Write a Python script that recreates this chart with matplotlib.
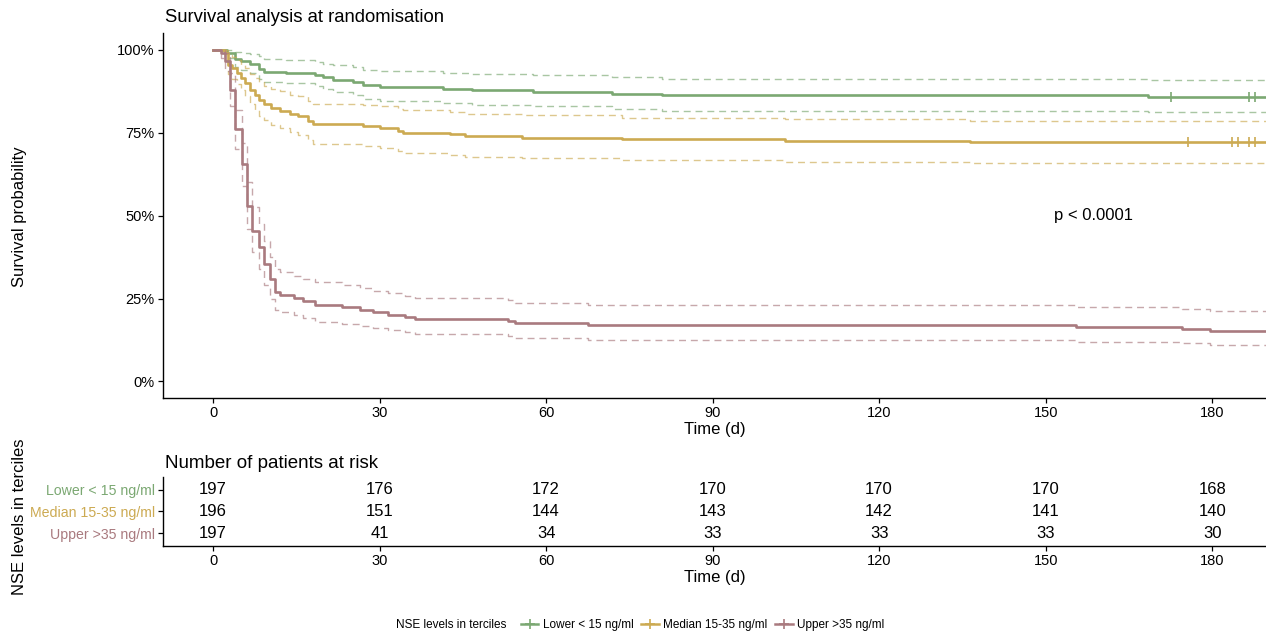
import matplotlib
matplotlib.use("Agg")
import matplotlib.pyplot as plt
from matplotlib.lines import Line2D
import numpy as np

plt.rcParams['font.family'] = ['Liberation Sans', 'DejaVu Sans']

# ---------------- data ----------------
groups = ["Lower < 15 ng/ml", "Median 15-35 ng/ml", "Upper >35 ng/ml"]
colors = ["#7BA872", "#CCAA52", "#A97A7F"]
end_time = 190

low_t = [0, 2.5, 4, 5, 6.7, 8.2, 9.1, 13.2, 18.4, 19.8, 21.6, 25.2, 27, 30, 41.4, 46.6, 57.6, 71.8, 80.8, 168.5]
low_s = [100, 99, 97.2, 96.5, 95.8, 94.3, 93.4, 93.1, 92.5, 91.7, 91.0, 90.2, 89.4, 88.8, 88.2, 87.8, 87.3, 86.8, 86.4, 85.8]
low_u = [100, 100, 99.5, 99.2, 98.8, 98.0, 97.2, 97.0, 96.3, 95.8, 95.4, 94.8, 94.0, 93.6, 93.1, 92.8, 92.4, 91.9, 91.3, 90.8]
low_l = [100, 97.5, 94.8, 93.8, 93.0, 91.3, 90.2, 89.9, 89.2, 88.3, 87.3, 86.3, 85.3, 84.6, 83.9, 83.5, 83.1, 82.3, 81.7, 81.2]
low_c = [172.6, 186.7, 187.7]

med_t = [0, 2.2, 2.7, 3.4, 4.3, 5.1, 5.8, 6.7, 7.6, 8.2, 9.1, 10.5, 12, 13.9, 15.3, 17.1, 18, 27, 30, 33.3, 34.2, 42.7, 45.4, 55.7, 73.7, 103, 136.4]
med_s = [100, 99, 95.5, 94.5, 93, 91.5, 90, 88, 86.5, 85, 83.7, 82.5, 81.7, 80.7, 80, 78.5, 77.5, 77, 76.5, 75.5, 75, 74.5, 74, 73.5, 73.1, 72.6, 72.1]
med_u = [100, 100, 98.5, 97.8, 96.8, 95.5, 94.5, 92.8, 91.5, 90.3, 89.2, 88.2, 87.5, 86.5, 86, 84.6, 83.8, 83.4, 83, 82.2, 81.8, 81.3, 80.8, 80.3, 79.6, 79.0, 78.5]
med_l = [100, 97.5, 92.6, 91.3, 89.6, 87.8, 86, 83.7, 82, 80.2, 78.7, 77.3, 76.4, 75.2, 74.3, 72.7, 71.6, 71.1, 70.5, 69.4, 68.9, 68.4, 67.8, 67.3, 66.8, 66.3, 65.8]
med_c = [175.7, 183.6, 184.6, 186.7, 187.7]

upp_t = [0, 1.5, 2.2, 3.1, 4.0, 5.2, 6.1, 7.0, 8.2, 9.1, 10.3, 11.2, 12.1, 14.5, 16.3, 18.4, 23.2, 26.5, 28.9, 31.6, 34.6, 36.4, 53.2, 54.4, 67.6, 155.5, 174.6, 179.6]
upp_s = [100, 99, 96.5, 88, 76, 65.5, 53, 45.5, 40.4, 35.5, 31, 27, 26, 25.1, 24.4, 23.1, 22.4, 21.6, 20.9, 20.1, 19.4, 18.9, 18.2, 17.5, 17.0, 16.4, 15.7, 15.2]
upp_u = [100, 100, 99, 93, 82, 72, 60, 52.5, 47.5, 42.5, 37.5, 34, 33, 31.8, 31, 30, 29, 28.2, 27.4, 26.6, 25.9, 25.3, 24.5, 23.7, 23.2, 22.4, 21.9, 21.2]
upp_l = [100, 97.5, 93.5, 83, 70, 59, 46, 39, 34, 29, 25, 21.6, 20.8, 20, 19, 17.9, 17.4, 16.7, 16, 15.4, 14.8, 14.2, 13.6, 13, 12.5, 11.9, 11.6, 11.1]
upp_c = []

risk_times = [0, 30, 60, 90, 120, 150, 180]
risk_low = [197, 176, 172, 170, 170, 170, 168]
risk_med = [196, 151, 144, 143, 142, 141, 140]
risk_upp = [197, 41, 34, 33, 33, 33, 30]

series = [
    (low_t, low_s, low_u, low_l, low_c),
    (med_t, med_s, med_u, med_l, med_c),
    (upp_t, upp_s, upp_u, upp_l, upp_c),
]
risks = [risk_low, risk_med, risk_upp]

# ---------------- figure ----------------
fig = plt.figure(figsize=(12.66, 6.34), dpi=100)
ax = fig.add_axes([0.1288, 0.3722, 0.8712, 0.5753])
axt = fig.add_axes([0.1288, 0.1388, 0.8712, 0.1093])

for (t, s, u, l, c), col in zip(series, colors):
    tt = list(t) + [end_time]
    for vals, ls, lw, al in [(u, (0, (5, 3.5)), 1.0, 0.65), (l, (0, (5, 3.5)), 1.0, 0.65), (s, '-', 1.9, 1.0)]:
        vv = list(vals) + [vals[-1]]
        ax.step(tt, vv, where='post', color=col, lw=lw, linestyle=ls, alpha=al)
    if c:
        idx = np.searchsorted(np.array(t), np.array(c), side='right') - 1
        ax.plot(c, np.array(s)[idx], linestyle='none', marker='|', color=col,
                markersize=7, markeredgewidth=1.2)

ax.set_xlim(-9, 189.7)
ax.set_ylim(-5, 105)
ax.set_xticks(risk_times)
ax.set_yticks([0, 25, 50, 75, 100])
ax.set_yticklabels(["0%", "25%", "50%", "75%", "100%"])
for a in (ax, axt):
    a.spines['top'].set_visible(False)
    a.spines['right'].set_visible(False)
    a.spines['left'].set_linewidth(1.0)
    a.spines['bottom'].set_linewidth(1.0)
    a.tick_params(direction='out', length=3.5, width=0.9, labelsize=10.5, colors='black', pad=2.5)
ax.set_xlabel("Time (d)", fontsize=12, labelpad=1)
ax.text(151.5, 50, "p < 0.0001", fontsize=12, ha='left', va='center')
ax.text(0.002, 1.02, "Survival analysis at randomisation", transform=ax.transAxes,
        fontsize=13.3, ha='left', va='bottom')
fig.text(0.0155, 0.659, "Survival probability", rotation=90, fontsize=12, ha='center', va='center')

# risk table
ypos = [3, 2, 1]
for r, y, col in zip(risks, ypos, colors):
    for tx, n in zip(risk_times, r):
        axt.text(tx, y, str(n), ha='center', va='center', fontsize=12)
axt.set_xlim(-9, 189.7)
axt.set_ylim(0.4, 3.6)
axt.set_xticks(risk_times)
axt.set_yticks(ypos)
axt.set_yticklabels(groups, fontsize=10.2)
for lab, col in zip(axt.get_yticklabels(), colors):
    lab.set_color(col)
axt.set_xlabel("Time (d)", fontsize=12, labelpad=1)
axt.text(0.002, 1.07, "Number of patients at risk", transform=axt.transAxes,
         fontsize=13.5, ha='left', va='bottom')
fig.text(0.0155, 0.185, "NSE levels in terciles", rotation=90, fontsize=12, ha='center', va='center')

# legend
handles = [Line2D([0], [0], color=c, lw=1.8, marker='+', markersize=7, markeredgewidth=1.2) for c in colors]
leg = fig.legend(handles, groups, loc='center', bbox_to_anchor=(0.555, 0.0145), ncol=3,
                 frameon=False, fontsize=8.5, handlelength=1.5, handletextpad=0.4,
                 columnspacing=0.6, borderaxespad=0)
fig.text(0.313, 0.0145, "NSE levels in terciles", fontsize=8.5, ha='left', va='center')

fig.savefig("out.png", dpi=100)
